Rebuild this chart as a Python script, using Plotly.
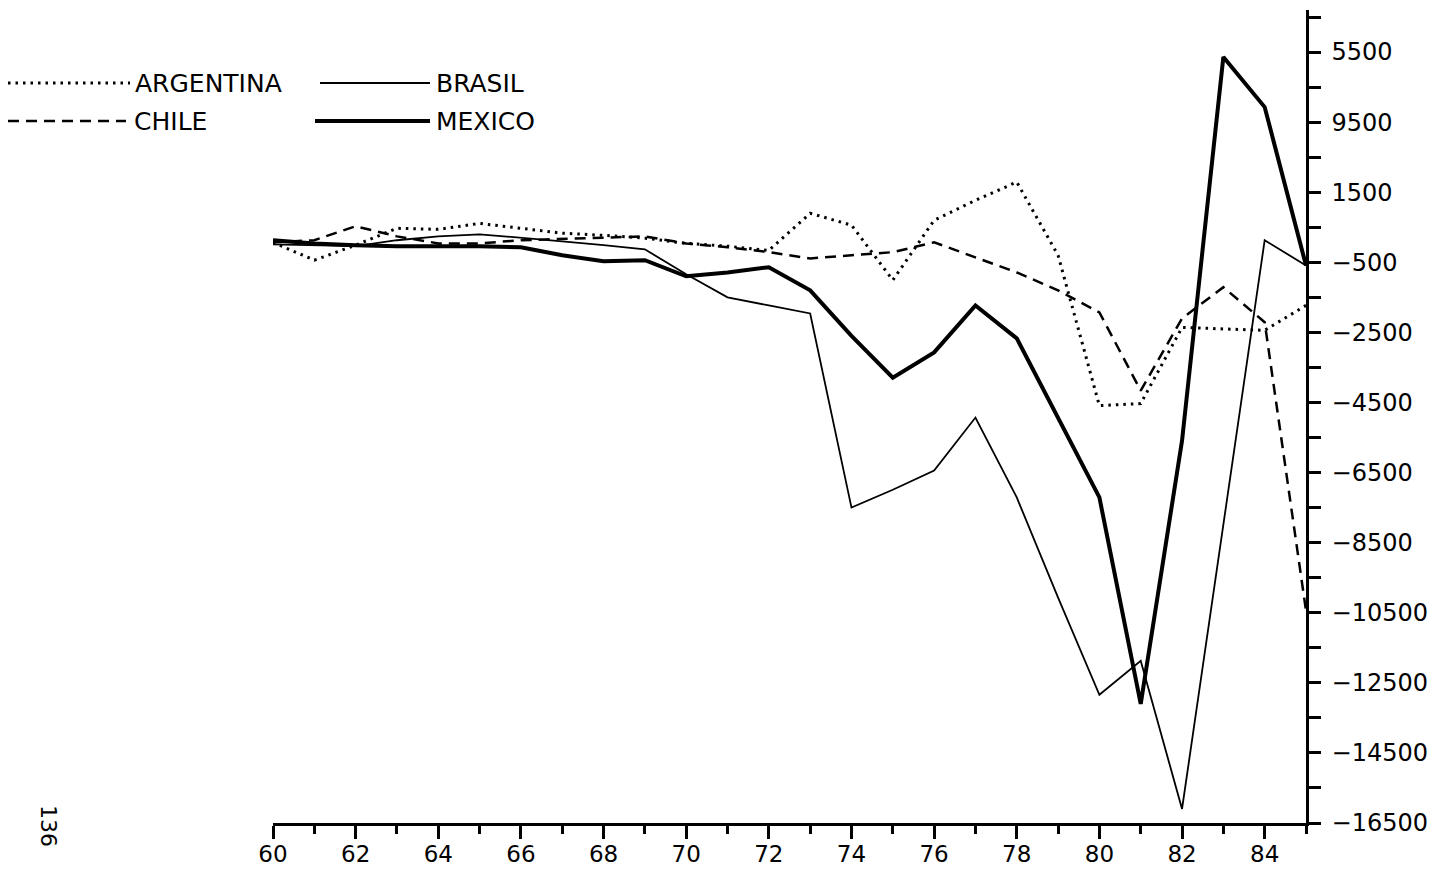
import plotly.graph_objects as go

# Current-account balance by year (millions of dollars), 1960-1985
years = list(range(60, 86))
argentina = [70, -440, -10, 470, 440, 610, 470, 330, 270, 190, 40, -40, -160,
             900, 560, -1010, 700, 1270, 1790, -300, -4590, -4530, -2360, -2390, -2440, -1730]
brasil = [10, -10, -40, 130, 240, 300, 210, 100, -10, -130, -840, -1500, -1730,
          -1960, -7500, -6990, -6440, -4930, -7210, -10070, -12840, -11870, -16100, -8000, 130, -590]
chile = [70, 130, 530, 240, 40, 40, 130, 160, 210, 240, 40, -70, -210,
         -390, -300, -210, 70, -360, -790, -1300, -1930, -4160, -2100, -1210, -2210, -10440]
mexico = [130, 40, -10, -40, -40, -40, -70, -300, -470, -440, -900, -790, -640,
          -1300, -2600, -3790, -3070, -1730, -2670, -4960, -7210, -13100, -5590, 5360, 3930, -590]

x_tickvals = list(range(60, 85, 2))
x_ticktext = [str(v) for v in x_tickvals]
y_tickvals = [5500, 3500, 1500, -500, -2500, -4500, -6500, -8500,
              -10500, -12500, -14500, -16500]
y_ticktext = ["5500", "9500", "1500", "\u2212500", "\u22122500", "\u22124500", "\u22126500",
              "\u22128500", "\u221210500", "\u221212500", "\u221214500", "\u221216500"]

W, H = 1449, 871
ML, MR, MT, MB = 273, 143, 10, 48
FONT = "DejaVu Sans"

styles = {
    "ARGENTINA": dict(width=3, dash="2.5px,5px"),
    "BRASIL": dict(width=1.8, dash="solid"),
    "CHILE": dict(width=2.5, dash="11px,7px"),
    "MEXICO": dict(width=4, dash="solid"),
}
series = {"ARGENTINA": argentina, "BRASIL": brasil, "CHILE": chile, "MEXICO": mexico}

fig = go.Figure()
for name, vals in series.items():
    st = styles[name]
    fig.add_trace(go.Scatter(
        x=years, y=vals, mode="lines", name=name, showlegend=False,
        line=dict(color="black", width=st["width"], dash=st["dash"]),
    ))

pw, ph = W - ML - MR, H - MT - MB


def px(x):
    return (x - ML) / pw


def py(y):
    return (H - MB - y) / ph


# Key: sample line followed by the series name
key = [
    ("ARGENTINA", 8, 130, 83, 133),
    ("BRASIL", 320, 430, 83, 434),
    ("CHILE", 8, 126, 121, 132),
    ("MEXICO", 315, 430, 121, 434),
]
shapes = []
annotations = []
for name, x0, x1, yk, xt in key:
    st = styles[name]
    shapes.append(dict(
        type="line", xref="paper", yref="paper",
        x0=px(x0), x1=px(x1), y0=py(yk), y1=py(yk),
        line=dict(color="black", width=st["width"], dash=st["dash"]),
    ))
    annotations.append(dict(
        xref="paper", yref="paper", x=px(xt), y=py(yk), text=name,
        showarrow=False, xanchor="left", yanchor="middle",
        font=dict(family=FONT, size=25, color="black"),
    ))

# Page number printed sideways at the lower left
annotations.append(dict(
    xref="paper", yref="paper", x=px(49), y=py(826), text="136",
    showarrow=False, textangle=90, xanchor="center", yanchor="middle",
    font=dict(family=FONT, size=22, color="black"),
))

fig.update_layout(
    width=W, height=H,
    margin=dict(l=ML, r=MR, t=MT, b=MB, pad=0, autoexpand=False),
    paper_bgcolor="white", plot_bgcolor="white",
    shapes=shapes, annotations=annotations,
    xaxis=dict(
        range=[60, 85], showgrid=False, zeroline=False, automargin=False,
        showline=True, linecolor="black", linewidth=2.5,
        tickmode="array", tickvals=x_tickvals, ticktext=x_ticktext,
        ticks="outside", ticklen=13, tickwidth=2.5, tickcolor="black",
        ticklabelstandoff=-4,
        tickfont=dict(family=FONT, size=23, color="black"),
        minor=dict(tickmode="linear", tick0=60, dtick=1, ticks="outside",
                   ticklen=8, tickwidth=2.5, tickcolor="black", showgrid=False),
    ),
    yaxis=dict(
        range=[-16500, 6700], side="right", showgrid=False, zeroline=False,
        automargin=False,
        showline=True, linecolor="black", linewidth=2.5,
        tickmode="array", tickvals=y_tickvals, ticktext=y_ticktext,
        ticks="outside", ticklen=12, tickwidth=2.5, tickcolor="black",
        ticklabelstandoff=6,
        tickfont=dict(family=FONT, size=24, color="black"),
        minor=dict(tickmode="linear", tick0=-16500, dtick=1000, ticks="outside",
                   ticklen=12, tickwidth=2.5, tickcolor="black", showgrid=False),
    ),
)

fig.write_html("out.html")
